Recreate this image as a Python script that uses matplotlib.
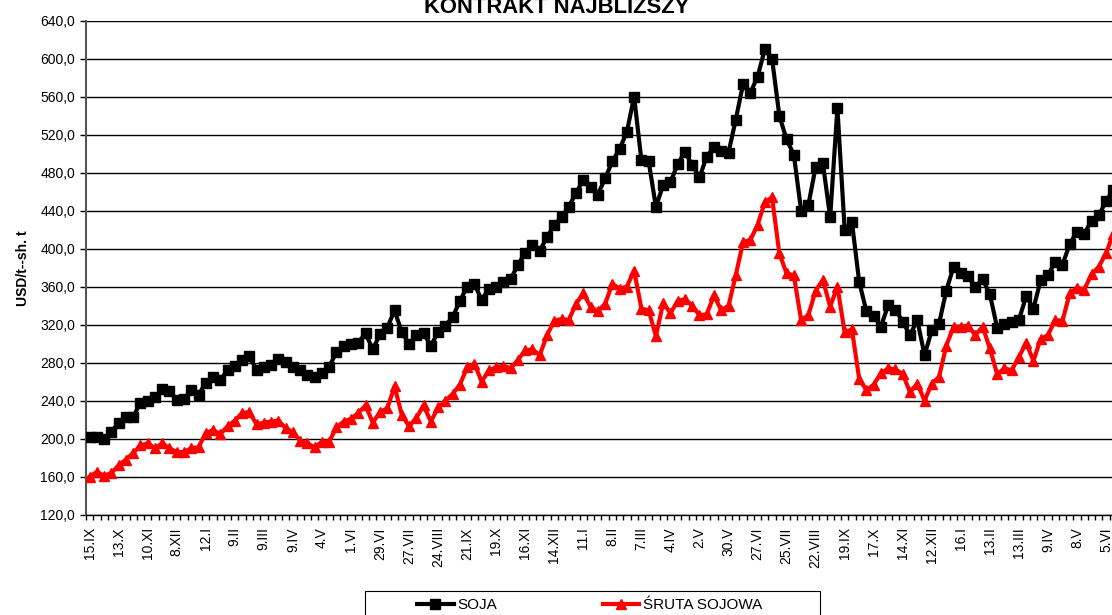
import matplotlib.pyplot as plt
import matplotlib.ticker as mticker
from matplotlib.patches import Rectangle

plt.rcParams["font.family"] = ["Liberation Sans", "DejaVu Sans"]

# weekly quotes, nearest contract
soja = [202, 202, 200, 207, 217, 223, 223, 238, 240, 244,
        252, 250, 241, 242, 251, 246, 259, 265, 262, 272,
        277, 283, 287, 272, 275, 278, 284, 281, 275, 272,
        267, 265, 269, 276, 291, 298, 300, 301, 311, 294,
        310, 317, 335, 312, 300, 309, 311, 298, 312, 319,
        328, 345, 360, 363, 346, 358, 360, 365, 368, 383,
        396, 404, 398, 412, 425, 433, 444, 459, 472, 465,
        457, 474, 492, 505, 523, 560, 493, 492, 444, 467,
        470, 489, 502, 488, 475, 497, 507, 503, 501, 536,
        573, 564, 581, 610, 600, 540, 515, 499, 440, 446,
        486, 490, 433, 548, 420, 428, 365, 334, 329, 318,
        341, 336, 323, 309, 325, 288, 314, 321, 356, 381,
        374, 371, 360, 368, 352, 317, 321, 323, 325, 350,
        337, 367, 372, 386, 383, 405, 418, 416, 429, 435,
        450, 462]

sruta = [160, 165, 161, 164, 172, 178, 185, 193, 195, 190,
         195, 190, 186, 186, 190, 191, 206, 209, 205, 213,
         219, 227, 228, 215, 217, 218, 219, 211, 207, 198,
         195, 191, 197, 197, 212, 218, 221, 227, 235, 217,
         228, 232, 255, 225, 213, 222, 235, 218, 233, 240,
         247, 257, 275, 279, 260, 272, 275, 277, 274, 283,
         293, 294, 288, 309, 324, 326, 325, 342, 353, 339,
         334, 342, 363, 358, 360, 377, 337, 335, 308, 343,
         332, 345, 347, 340, 330, 331, 351, 335, 340, 372,
         407, 409, 425, 449, 454, 395, 374, 372, 325, 330,
         356, 367, 339, 360, 312, 315, 263, 251, 257, 269,
         274, 273, 268, 249, 258, 240, 258, 265, 298, 318,
         318, 319, 309, 318, 295, 268, 274, 272, 286, 301,
         282, 305, 309, 325, 324, 353, 359, 357, 373, 381,
         395, 416]

date_labels = ["15.IX", "13.X", "10.XI", "8.XII", "12.I", "9.II", "9.III", "9.IV",
               "4.V", "1.VI", "29.VI", "27.VII", "24.VIII", "21.IX", "19.X", "16.XI",
               "14.XII", "11.I", "8.II", "7.III", "4.IV", "2.V", "30.V", "27.VI",
               "25.VII", "22.VIII", "19.IX", "17.X", "14.XI", "12.XII", "16.I", "13.II",
               "13.III", "9.IV", "8.V", "5.VI"]

n = len(soja)
x = list(range(n))

W, H = 1112, 615
fig = plt.figure(figsize=(W / 100, H / 100), dpi=100)
# plot area runs past the right edge of the picture (cropped like the original)
left, right, top, bottom = 86, 86 + n * 7.26, 20.7, 514.7
ax = fig.add_axes([left / W, 1 - bottom / H, (right - left) / W, (bottom - top) / H])

ax.plot(x, soja, color="black", lw=3, marker="s", ms=6.5, label="SOJA", zorder=3)
ax.plot(x, sruta, color="red", lw=3, marker="^", ms=7, label="ŚRUTA SOJOWA", zorder=3)

ax.set_xlim(-0.5, n - 0.5)
ax.set_ylim(120, 640)
ax.yaxis.set_major_locator(mticker.MultipleLocator(40))
ax.yaxis.set_major_formatter(mticker.FuncFormatter(lambda v, p: f"{v:.1f}".replace(".", ",")))
ax.grid(axis="y", color="black", lw=1)
ax.set_axisbelow(True)

ax.set_xticks(range(0, 4 * len(date_labels), 4))
ax.set_xticklabels(date_labels, rotation=90, va="top", ha="center")
ax.set_xticks([i - 0.5 for i in range(n + 1)], minor=True)
ax.tick_params(axis="x", which="major", length=0, pad=9, labelsize=10)
ax.tick_params(axis="x", which="minor", length=3.8, width=1)
ax.tick_params(axis="y", length=4, width=1, pad=4, labelsize=10)

for s in ["top", "right"]:
    ax.spines[s].set_visible(False)
ax.spines["left"].set_color("#555555")
ax.spines["left"].set_linewidth(1.5)
ax.spines["bottom"].set_linewidth(1)

ax.set_ylabel("USD/t--sh. t", fontsize=10, fontweight="bold", labelpad=7)

fig.text(557 / W, 1 - 13 / H, "KONTRAKT NAJBLIŻSZY", ha="center", va="baseline",
         fontsize=15.8, fontweight="bold")

# legend box, cut by the bottom edge of the picture
fig.patches.append(Rectangle((365 / W, -0.05), 455 / W, 0.05 + 1 - 591 / H,
                             transform=fig.transFigure, fill=False,
                             edgecolor="black", lw=0.8))
fig.legend(loc="center left", bbox_to_anchor=(417 / W, 1 - 605 / H), ncol=2,
           fontsize=11, frameon=False, handlelength=2.4, handletextpad=0.26,
           columnspacing=6.9, borderpad=0, borderaxespad=0)

fig.savefig("out.png", dpi=100)
